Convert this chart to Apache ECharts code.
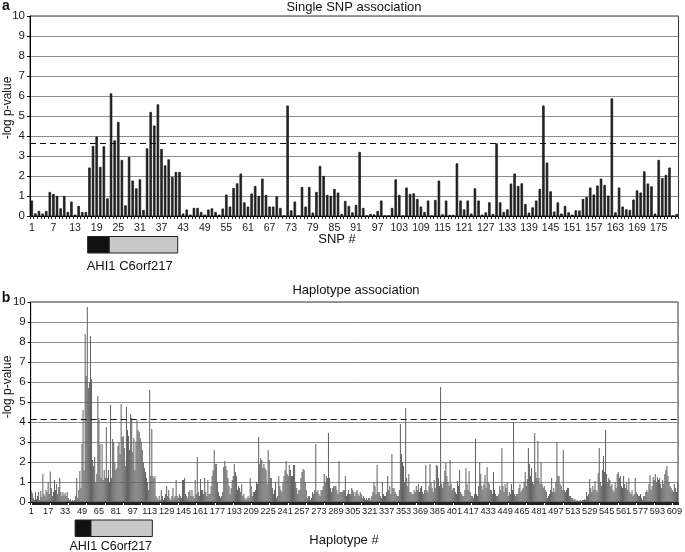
<!DOCTYPE html>
<html>
<head>
<meta charset="utf-8">
<script src="https://cdn.jsdelivr.net/npm/echarts@6/dist/echarts.min.js"></script>
<style>
  html, body { margin: 0; padding: 0; background: #fff; }
  #chart { width: 685px; height: 552px; }
</style>
</head>
<body>
<div id="chart"></div>
<script>
// -log p-value per SNP (panel a)
var snpValues = [
  0.77,0.13,0.25,0.12,0.25,1.2,1.1,1.0,0.38,1.0,
  0.2,0.72,0.07,0.5,0.2,0.2,2.42,3.5,3.97,2.45,
  3.48,0.88,6.13,3.78,4.7,2.8,0.53,2.95,1.77,1.38,
  1.83,0.3,3.38,5.2,4.52,5.58,3.35,2.53,2.83,1.95,
  2.2,2.2,0.12,0.32,0.07,0.4,0.4,0.2,0.07,0.32,
  0.38,0.2,0.07,0.37,1.07,0.47,1.4,1.63,2.12,0.68,
  0.47,1.12,1.5,1.0,1.87,1.05,0.47,0.47,0.98,0.4,
  0,5.52,0.28,0.72,0,1.45,0.47,1.45,0.17,1.2,
  2.5,2.0,1.05,1.0,1.35,1.17,0.1,0.75,0.5,0.18,
  0.55,3.2,0.4,0,0.1,0.08,0.25,0.77,0,0.02,
  0.4,1.83,1.05,0,1.42,1.1,1.13,0.85,0.47,0.2,
  0.77,0,0.8,1.77,0.08,0.77,0.05,0.05,2.63,0.77,
  0.33,0.77,0.12,1.38,0.77,0.07,0.18,0.68,0.1,3.63,
  0.68,0.2,0.33,1.62,2.12,1.5,1.63,0.6,0.17,0.43,
  0.77,1.35,5.52,2.67,1.23,0.22,0.68,0.12,0.5,0.18,
  0.07,0.28,0.27,0.85,0.95,1.42,1.07,1.52,1.87,1.55,
  1.02,5.88,0.18,1.42,0.47,0.33,0.3,0.82,1.28,1.17,
  2.23,1.62,1.48,0.12,2.8,1.9,2.05,2.42,0,0.1
];

// -log p-value per haplotype (panel b), 16 per row
var haploValues = [
  0.55,0.45,0.2,0.1,0.5,0.15,0.3,0.5,0.1,0.55,0.25,1.4,0.4,0.3,0.6,0.5,
  1.0,0.4,1.53,0.7,0.3,0.5,1.1,0.6,0.9,0.4,0.75,1.2,0.5,0.3,0.5,0.35,
  0.45,0.3,0.5,0.2,0.1,0.15,0.05,0.1,0.05,0.1,0.3,1.2,0.2,0.6,1.55,0.7,
  2.9,4.6,1.6,8.4,6.3,9.75,5.7,6.0,8.3,6.15,2.1,1.8,2.25,1.0,1.4,5.3,
  4.2,2.9,1.2,2.9,1.1,1.6,1.2,3.75,1.2,1.6,1.0,4.85,1.2,3.15,3.0,2.0,
  1.6,1.7,2.8,3.0,2.4,4.9,3.25,3.3,2.7,1.8,4.75,3.6,3.3,2.6,4.4,4.2,
  2.5,3.2,1.6,3.0,4.1,3.6,3.5,3.2,3.0,2.6,2.0,1.7,1.5,1.2,1.0,0.6,
  5.6,1.3,3.65,1.3,1.2,1.3,0.3,0.2,0.1,0.3,0.1,0.6,0.3,0.1,0.2,0.4,
  0.8,0.3,0.6,0.2,0.1,0.3,0.7,0.2,0.3,1.1,0.3,0.2,0.4,0.3,0.2,1.1,
  1.1,1.2,0.4,0.3,0.2,0.5,0.6,0.3,0.6,0.3,0.2,1.1,0.4,2.25,0.5,0.3,
  1.15,0.6,0.6,0.4,1.2,0.5,0.3,1.1,0.4,0.4,0.8,1.3,1.6,2.6,1.9,1.9,
  1.0,0.5,0.3,0.2,0.3,0.5,1.75,2.05,1.8,1.6,1.2,0.8,0.4,0.7,1.1,1.3,
  1.9,1.5,1.3,0.6,0.8,0.7,0.5,0.9,0.3,0.4,0.2,0.1,0.2,0.3,0.2,1.2,
  0.8,0.3,0.5,0.5,0.6,1.0,0.9,3.25,1.9,2.2,2.1,1.7,1.9,1.7,1.6,0.9,
  2.6,2.1,1.2,1.2,0.7,0.4,0.6,1.0,0.2,0.3,1.3,0.8,0.6,0.5,1.0,1.3,
  1.6,2.05,1.4,1.3,1.85,1.6,1.3,1.3,1.85,1.85,1.0,0.7,0.4,0.6,0.6,1.2,
  1.5,1.65,1.6,1.0,0.6,0.2,0.3,0.3,0.1,0.2,0.5,0.4,0.6,2.9,0.5,0.6,
  0.4,0.3,0.6,0.6,0.8,1.4,1.0,1.3,1.2,3.45,1.2,0.7,0.5,0.7,0.8,0.8,
  0.8,0.6,0.4,2.05,0.5,0.5,0.5,0.6,0.6,1.3,0.3,0.4,0.6,0.4,0.4,0.7,
  0.6,0.5,0.3,0.5,0.6,0.4,0.3,0.5,0.4,0.2,0.3,0.2,0.1,0.2,0.1,0.2,
  0.2,0.1,0.3,0.5,1.0,0.8,0.4,1.85,0.5,0.5,0.3,0.2,1.0,0.4,0.3,0.3,
  0.5,1.3,0.6,0.8,0.4,2.4,0.7,0.7,0.5,0.4,0.3,0.3,0.6,3.9,2.4,2.0,
  1.8,1.0,4.7,1.2,0.8,1.4,0.5,0.5,0.4,0.4,0.6,0.5,0.8,0.6,0.9,0.5,
  0.7,0.8,0.5,0.4,0.6,1.85,0.6,0.5,0.8,1.9,1.0,0.7,0.5,1.1,0.7,1.85,
  1.8,1.2,0.8,5.75,0.9,0.7,1.0,1.55,2.0,1.3,1.0,0.8,2.1,0.9,0.6,0.7,
  0.7,0.5,0.4,1.05,0.8,1.6,0.5,0.4,0.3,0.3,0.6,1.7,0.9,0.6,1.55,0.5,
  0.3,0.3,0.2,0.4,3.15,0.4,0.3,0.8,2.0,1.4,0.8,0.6,0.9,1.35,0.7,1.75,
  1.0,0.9,0.6,0.6,0.4,1.5,0.6,0.4,0.3,0.3,0.4,0.8,0.6,2.7,0.8,0.5,
  0.9,0.7,1.0,0.3,0.5,0.4,0.9,0.6,4.0,0.4,0.3,0.4,0.4,0.7,0.9,0.5,
  0.6,0.7,1.0,1.5,0.8,1.15,2.7,1.9,1.3,1.7,1.0,0.9,3.45,1.5,1.2,3.05,
  1.2,0.9,2.0,0.9,0.7,0.8,0.6,0.5,0.2,0.3,0.4,0.6,1.2,0.5,0.7,0.5,
  1.0,3.0,1.3,1.3,0.9,0.8,0.6,2.6,0.6,0.5,0.6,0.7,0.7,0.3,0.3,0.2,
  0.2,0.1,0.15,0.05,0.1,0.05,0.05,0.1,0.05,0.1,0.1,0.15,0.1,0.5,0.3,0.4,
  1.15,0.7,0.5,0.8,0.6,1.05,0.6,0.5,1.45,2.7,1.0,0.8,1.6,2.3,1.5,3.6,
  1.4,1.0,1.2,1.1,0.8,0.9,0.6,0.5,1.0,0.7,1.4,1.5,1.2,1.3,0.8,0.7,
  1.3,0.9,0.7,1.0,0.6,1.2,0.5,0.4,0.6,0.3,0.4,1.2,0.5,0.4,0.3,0.3,
  0.4,0.2,0.1,0.3,0.3,0.5,0.6,0.5,0.9,1.35,0.6,0.8,1.25,1.1,1.4,1.0,
  1.25,1.1,1.2,0.9,0.7,1.1,0.9,1.4,1.6,1.8,1.3,1.0,0.8,0.7,0.6,0.5,
  0.9,0.7,0.5,1.0
];

var snpCategories = snpValues.map(function (v, i) { return String(i + 1); });
var haploCategories = haploValues.map(function (v, i) { return String(i + 1); });

var thresholds = [3.65, 4.15];   // dashed significance lines, panel a / b
var geneNames = ['AHI1', 'C6orf217'];
var snpGeneSpans = [[17, 22], [23, 41]];      // first/last SNP # under each gene
var haploGeneSpans = [[43, 57], [58, 115]];   // first/last haplotype # under each gene

var FONT = 'Liberation Sans, Arial, sans-serif';

var chart = echarts.init(document.getElementById('chart'), null, { renderer: 'canvas' });

function yAxisFor(gridIndex) {
  return {
    type: 'value', gridIndex: gridIndex, min: 0, max: 10, interval: 1,
    axisLine: { show: true, lineStyle: { color: '#000', width: 1 } },
    axisTick: { show: true, length: 3, lineStyle: { color: '#000' } },
    axisLabel: { color: '#1a1a1a', fontSize: 11.5, fontFamily: FONT, margin: 5 },
    splitLine: { lineStyle: { color: '#8e8e8e', width: 1 } }
  };
}

function xAxisFor(gridIndex, cats, every, fs, margin) {
  return {
    type: 'category', gridIndex: gridIndex, data: cats,
    axisLine: { lineStyle: { color: '#000', width: 1 } },
    axisTick: { show: true, interval: 0, length: 3, lineStyle: { color: '#222', width: 1 } },
    axisLabel: { interval: every - 1, color: '#1a1a1a', fontSize: fs, fontFamily: FONT, margin: margin },
    splitLine: { show: false }
  };
}

function threshold(val) {
  return {
    silent: true, symbol: 'none', label: { show: false },
    lineStyle: { type: [6, 4], color: '#111', width: 1.2 },
    data: [{ yAxis: val }]
  };
}

var option = {
  animation: false,
  backgroundColor: '#fff',
  grid: [
    { left: 30, right: 6.5, top: 16, height: 200, show: true, borderColor: '#333', borderWidth: 1 },
    { left: 30.7, right: 4.3, top: 302, height: 200, show: true, borderColor: '#333', borderWidth: 1 }
  ],
  xAxis: [
    xAxisFor(0, snpCategories, 6, 10.5, 7),
    xAxisFor(1, haploCategories, 16, 9.2, 5)
  ],
  yAxis: [yAxisFor(0), yAxisFor(1)],
  series: [
    {
      type: 'bar', xAxisIndex: 0, yAxisIndex: 0, data: snpValues,
      barWidth: 2.4,
      itemStyle: { color: '#2a2a2a', borderColor: '#000', borderWidth: 0.6 },
      markLine: threshold(thresholds[0])
    },
    {
      type: 'bar', xAxisIndex: 1, yAxisIndex: 1, data: haploValues,
      barCategoryGap: '5%',
      itemStyle: { color: '#606060' },
      markLine: threshold(thresholds[1])
    }
  ]
};

chart.setOption(option);

function geneGraphics(axisIdx, spans, boxTop, boxH, labelY, labelSize) {
  var c0 = chart.convertToPixel({ xAxisIndex: axisIdx }, 0);
  var c1 = chart.convertToPixel({ xAxisIndex: axisIdx }, 1);
  var band = c1 - c0;
  var out = [];
  var fills = ['#111', '#c8c8c8'];
  var left0 = null, right1 = null;
  spans.forEach(function (s, i) {
    var l = chart.convertToPixel({ xAxisIndex: axisIdx }, s[0] - 1) - band / 2;
    var r = chart.convertToPixel({ xAxisIndex: axisIdx }, s[1] - 1) + band / 2;
    if (i === 0) left0 = l;
    right1 = r;
    out.push({
      type: 'rect', shape: { x: l, y: boxTop, width: r - l, height: boxH },
      style: { fill: fills[i], stroke: '#222', lineWidth: 1 }
    });
  });
  out.push({
    type: 'text', x: (left0 + right1) / 2 - 3, y: labelY,
    style: { text: geneNames.join(' '), fill: '#111', fontSize: labelSize, fontFamily: FONT,
             align: 'center', verticalAlign: 'middle' }
  });
  return out;
}

function txt(s, x, y, size, extra) {
  var o = {
    type: 'text', x: x, y: y,
    style: { text: s, fill: '#111', fontSize: size, fontFamily: FONT, align: 'center', verticalAlign: 'middle' }
  };
  if (extra) {
    for (var k in extra) o[k] = extra[k];
  }
  return o;
}

var g = [];
g.push(txt('a', 6, 6, 14, null));
g[g.length - 1].style.fontWeight = 'bold';
g.push(txt('b', 6, 298, 14, null));
g[g.length - 1].style.fontWeight = 'bold';
g.push(txt('Single SNP association', 354, 7, 13, null));
g.push(txt('Haplotype association', 356, 290, 13, null));
g.push(txt('SNP #', 337, 239, 13, null));
g.push(txt('Haplotype #', 344, 540, 13, null));
g.push(txt('-log p-value', 8, 108, 12, { rotation: Math.PI / 2 }));
g.push(txt('-log p-value', 8, 387, 12, { rotation: Math.PI / 2 }));
g = g.concat(geneGraphics(0, snpGeneSpans, 236.5, 16.5, 266, 13));
g = g.concat(geneGraphics(1, haploGeneSpans, 520, 16.5, 547, 12.5));

chart.setOption({ graphic: g });
</script>
</body>
</html>
